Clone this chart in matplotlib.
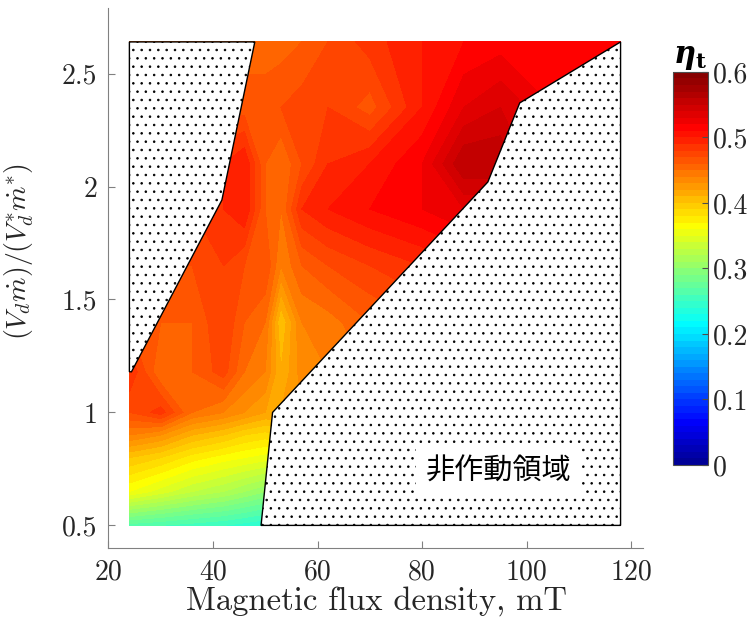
import matplotlib
matplotlib.use("Agg")
import matplotlib.pyplot as plt
from matplotlib.colors import LinearSegmentedColormap
import numpy as np

plt.rcParams['font.family'] = ['cmr10', 'DejaVu Serif']
plt.rcParams['mathtext.fontset'] = 'cm'
plt.rcParams['axes.unicode_minus'] = False
plt.rcParams['hatch.linewidth'] = 0.6

# magnetic flux density [mT] and flow ratio grid
b_field = [24, 30, 36, 42, 46, 50, 53, 57, 62, 70, 80, 88, 95, 105, 118]
flow_ratio = [0.5, 0.65, 0.8, 0.9, 1.0, 1.18, 1.4, 1.65, 1.9, 2.1, 2.35, 2.64]

# eta_t, one row per flow ratio
eta_t = [
    [0.265, 0.26, 0.255, 0.25, 0.245, 0.24, 0.24, 0.25, 0.27, 0.30, 0.35, 0.40, 0.45, 0.50, 0.50],
    [0.36, 0.345, 0.33, 0.32, 0.31, 0.30, 0.30, 0.31, 0.32, 0.35, 0.40, 0.45, 0.48, 0.50, 0.50],
    [0.40, 0.39, 0.375, 0.365, 0.36, 0.355, 0.355, 0.36, 0.38, 0.40, 0.43, 0.46, 0.48, 0.50, 0.50],
    [0.44, 0.43, 0.41, 0.40, 0.39, 0.385, 0.39, 0.40, 0.41, 0.42, 0.44, 0.47, 0.49, 0.50, 0.50],
    [0.47, 0.485, 0.45, 0.44, 0.43, 0.42, 0.42, 0.43, 0.44, 0.45, 0.46, 0.48, 0.50, 0.50, 0.50],
    [0.49, 0.45, 0.46, 0.475, 0.45, 0.44, 0.41, 0.435, 0.44, 0.45, 0.46, 0.48, 0.50, 0.50, 0.50],
    [0.47, 0.46, 0.46, 0.48, 0.46, 0.45, 0.40, 0.44, 0.445, 0.46, 0.47, 0.49, 0.50, 0.50, 0.50],
    [0.47, 0.47, 0.47, 0.48, 0.47, 0.47, 0.44, 0.46, 0.47, 0.48, 0.49, 0.50, 0.51, 0.51, 0.51],
    [0.48, 0.48, 0.48, 0.49, 0.50, 0.46, 0.45, 0.49, 0.50, 0.51, 0.52, 0.53, 0.53, 0.52, 0.52],
    [0.48, 0.48, 0.48, 0.49, 0.50, 0.46, 0.45, 0.47, 0.49, 0.50, 0.52, 0.56, 0.56, 0.52, 0.52],
    [0.465, 0.465, 0.465, 0.465, 0.465, 0.465, 0.47, 0.475, 0.48, 0.465, 0.50, 0.53, 0.54, 0.52, 0.52],
    [0.455, 0.455, 0.455, 0.455, 0.455, 0.455, 0.455, 0.46, 0.47, 0.485, 0.50, 0.51, 0.515, 0.52, 0.52],
]

# non-operating regions (outline vertices)
left_zone_x = [24, 48, 41.7, 24.4, 24, 24]
left_zone_y = [2.64, 2.64, 1.94, 1.18, 1.18, 2.64]
right_zone_x = [118, 98.7, 92.6, 51.4, 49.2, 118, 118]
right_zone_y = [2.64, 2.37, 2.02, 1.0, 0.5, 0.5, 2.64]
zone_label = '非作動領域'

x_ticks = [20, 40, 60, 80, 100, 120]
y_ticks = [0.5, 1, 1.5, 2, 2.5]
y_tick_labels = ['0.5', '1', '1.5', '2', '2.5']
cb_ticks = [0, 0.1, 0.2, 0.3, 0.4, 0.5, 0.6]
cb_tick_labels = ['0', '0.1', '0.2', '0.3', '0.4', '0.5', '0.6']

# MATLAB style jet
matlab_jet = LinearSegmentedColormap('matlab_jet', {
    'red': [(0, 0, 0), (0.36, 0, 0), (0.61, 1, 1), (0.86, 1, 1), (1, 0.5, 0.5)],
    'green': [(0, 0, 0), (0.11, 0, 0), (0.36, 1, 1), (0.61, 1, 1), (0.86, 0, 0), (1, 0, 0)],
    'blue': [(0, 0.56, 0.56), (0.11, 1, 1), (0.36, 1, 1), (0.61, 0, 0), (1, 0, 0)],
}, N=256)

fig = plt.figure(figsize=(7.55, 6.33), dpi=100)
ax = fig.add_axes([0.1437, 0.1343, 0.708, 0.853])

levels = np.linspace(0, 0.6, 61)
cs = ax.contourf(b_field, flow_ratio, np.array(eta_t), levels=levels, cmap=matlab_jet, vmin=0, vmax=0.6)

for zx, zy in [(left_zone_x, left_zone_y), (right_zone_x, right_zone_y)]:
    ax.fill(zx, zy, facecolor='white', edgecolor='black', hatch='..', linewidth=1.0, zorder=3)

ax.text(94.6, 0.737, zone_label, ha='center', va='center', fontsize=21,
        family=['Noto Sans CJK JP', 'DejaVu Sans'], zorder=4,
        bbox=dict(facecolor='white', edgecolor='none', pad=7))

ax.set_xlim(20, 122.3)
ax.set_ylim(0.4, 2.79)
ax.set_xticks(x_ticks)
ax.set_yticks(y_ticks)
ax.set_yticklabels(y_tick_labels)
for s in ['top', 'right']:
    ax.spines[s].set_visible(False)
for s in ['left', 'bottom']:
    ax.spines[s].set_color('0.5')
ax.tick_params(direction='in', length=5, color='0.5', labelsize=20, labelcolor='#262626', pad=8)
ax.set_xlabel('Magnetic flux density, mT', fontsize=23.5, color='#262626')
ax.xaxis.set_label_coords(0.502, -0.07)
ax.set_ylabel(r'$(V_d\dot{m})/(V_d^{*}\dot{m}^{*})$', fontsize=20, color='#262626')
ax.yaxis.set_label_coords(-0.135, 0.548)

cax = fig.add_axes([0.891, 0.2654, 0.0464, 0.621])
cb = fig.colorbar(cs, cax=cax, ticks=cb_ticks)
cb.ax.set_yticklabels(cb_tick_labels)
cb.ax.tick_params(direction='in', length=4, labelsize=20, labelcolor='#262626', color='0.3')
cb.outline.set_edgecolor('0.3')
cb.ax.set_title(r'$\mathbfit{\eta}_\mathbf{t}$', fontsize=22, pad=6, math_fontfamily='dejavuserif')

fig.savefig('out.png', dpi=100)
